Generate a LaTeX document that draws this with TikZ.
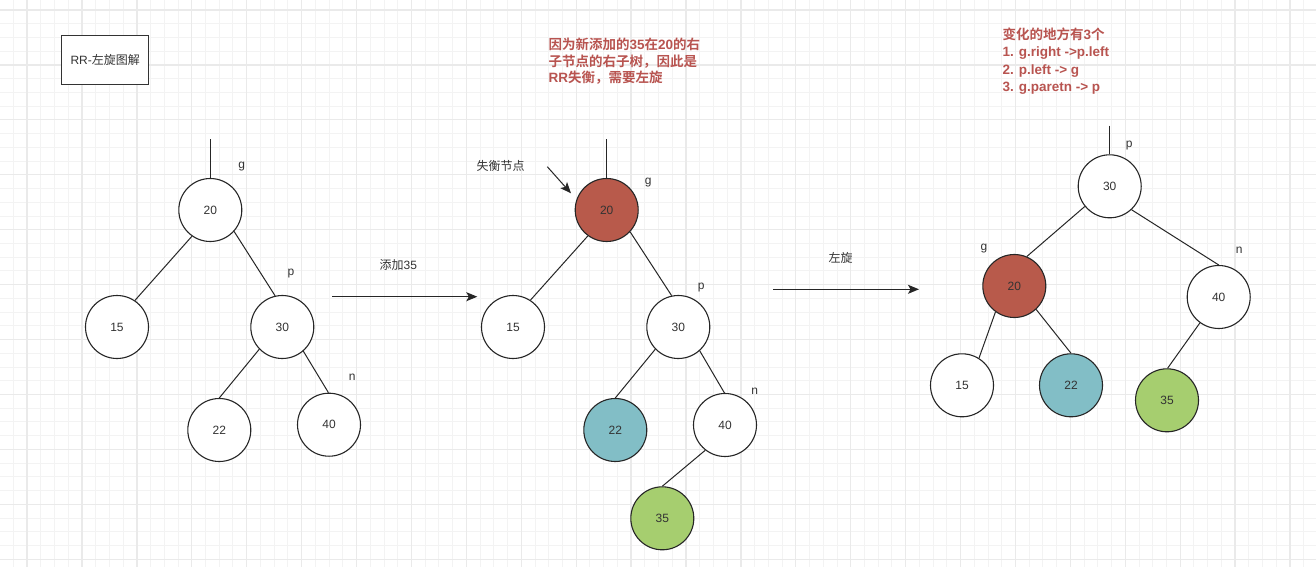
\documentclass[tikz,border=0pt]{standalone}
\usepackage{fontspec}
\setmainfont{Liberation Sans}
\newfontfamily\cjk{Noto Sans CJK SC}[BoldFont={Noto Sans CJK SC Bold}]
\usepackage{xcolor}
\usetikzlibrary{arrows.meta,positioning}

\definecolor{gridminor}{HTML}{F3F3F3}
\definecolor{gridmajor}{HTML}{EAEAEA}
\definecolor{rednode}{HTML}{B85A4B}
\definecolor{tealnode}{HTML}{82BEC6}
\definecolor{greennode}{HTML}{A6CE6F}
\definecolor{redtext}{HTML}{B85450}
\definecolor{inktext}{HTML}{333333}

\tikzset{
    treenode/.style={
        circle,
        draw=black!85,
        line width=1.1pt,
        minimum size=63pt,
        inner sep=0pt,
        fill=white,
        text=inktext,
        font=\fontsize{12}{14}\selectfont
    },
    tag/.style={
        text=inktext,
        inner sep=0pt,
        font=\fontsize{12}{14}\selectfont
    },
    edge/.style={
        line width=1pt,
        draw=black!85
    },
    note/.style={
        text=redtext,
        align=left,
        anchor=north west,
        inner sep=0pt,
        font=\bfseries\fontsize{13.5}{16.8}\selectfont
    },
    pointer/.style={
        -{Stealth[length=11pt,width=9pt,inset=2.5pt]},
        line width=1.2pt,
        draw=black!85
    }
}

\begin{document}
\begin{tikzpicture}[x=1pt,y=-1pt]
                \useasboundingbox (0,0) rectangle (1316,567);
                \fill[white] (0,0) rectangle (1316,567);

                % background grid
                \foreach \i in {0,...,95}
                    \draw[gridminor, line width=0.9pt] ({-0.43+13.728*\i},0) -- ({-0.43+13.728*\i},567);
                \foreach \j in {0,...,40}
                    \draw[gridminor, line width=0.9pt] (0,{10+13.73*\j}) -- (1316,{10+13.73*\j});
                \foreach \i in {2,6,...,94}
                    \draw[gridmajor, line width=1.3pt] ({-0.43+13.728*\i},0) -- ({-0.43+13.728*\i},567);
                \foreach \j in {0,4,...,40}
                    \draw[gridmajor, line width=1.3pt] (0,{10+13.73*\j}) -- (1316,{10+13.73*\j});

                % title
                \node[
                    draw=inktext,
                    line width=1pt,
                    fill=white,
                    minimum width=87pt,
                    minimum height=48.6pt,
                    text=inktext,
                    font=\fontsize{12}{14}\selectfont
                    ] (title) at (105.2,60) {RR-{\cjk 左旋图解}};

                % tree before insert
                \node[treenode] (a20) at (210.3,210) {20};
                \node[treenode] (a15) at (117,327) {15};
                \node[treenode] (a30) at (282.3,327) {30};
                \node[treenode] (a22) at (219.3,430) {22};
                \node[treenode] (a40) at (329,424.7) {40};
                \coordinate (aTop) at (210.3,139);

                \node[tag] (ag) at (241.7,166.7) {g};
                \node[tag] (ap) at (291,273.3) {p};
                \node[tag] (an) at (352.3,377.3) {n};

                \draw[edge] (aTop) -- (a20.north);
                \draw[edge] (a20.235) -- (a15.56);
                \draw[edge] (a20.318) -- (a30.103);
                \draw[edge] (a30.224) -- (a22.90);
                \draw[edge] (a30.311) -- (a40.91);

                % step 1
                \coordinate (addS) at (332.3,296.7);
                \coordinate (addE) at (477.3,296.7);
                \draw[pointer] (addS) -- (addE);
                \node[tag] (addLbl) at (398.3,265) {{\cjk 添加}35};

                % tree after insert
                \node[treenode, fill=rednode] (b20) at (606.7,210) {20};
                \node[treenode] (b15) at (513,327) {15};
                \node[treenode] (b30) at (678.3,327) {30};
                \node[treenode, fill=tealnode] (b22) at (615.3,430) {22};
                \node[treenode] (b40) at (725,425) {40};
                \node[treenode, fill=greennode] (b35) at (662.3,518.3) {35};
                \coordinate (bTop) at (606.7,139);

                \node[tag] (bg) at (648.3,182.3) {g};
                \node[tag] (bp) at (701.3,287.3) {p};
                \node[tag] (bn) at (754.7,391.5) {n};

                \draw[edge] (bTop) -- (b20.north);
                \draw[edge] (b20.234) -- (b15.57);
                \draw[edge] (b20.317) -- (b30.102);
                \draw[edge] (b30.224) -- (b22.90);
                \draw[edge] (b30.312) -- (b40.91);
                \draw[edge] (b40.232) -- (b35.90);

                \node[tag] (hint) at (500.7,165.7) {\cjk 失衡节点};
                \coordinate (hintS) at (547.3,166.7);
                \coordinate (hintE) at (571,193.3);
                \draw[pointer, line width=1pt] (hintS) -- (hintE);

                \node[note] (why) at (548.3,37.6) {{\cjk 因为新添加的}35{\cjk 在}20{\cjk 的右}\\
                    {\cjk 子节点的右子树，因此是}\\
                    RR{\cjk 失衡，需要左旋}};

                % step 2
                \coordinate (rotS) at (773,289.3);
                \coordinate (rotE) at (919,289.3);
                \draw[pointer] (rotS) -- (rotE);
                \node[tag] (rotLbl) at (840.7,258.3) {\cjk 左旋};

                % tree after rotation
                \node[treenode] (c30) at (1109.7,186.3) {30};
                \node[treenode, fill=rednode] (c20) at (1014.3,286) {20};
                \node[treenode] (c40) at (1218.7,297) {40};
                \node[treenode] (c15) at (962,385.3) {15};
                \node[treenode, fill=tealnode] (c22) at (1071,385.3) {22};
                \node[treenode, fill=greennode] (c35) at (1167,400.3) {35};
                \coordinate (cTop) at (1109.7,125.7);

                \node[tag] (cp) at (1129.3,145.7) {p};
                \node[tag] (cg) at (984,248.3) {g};
                \node[tag] (cn) at (1239.3,250.7) {n};

                \draw[edge] (cTop) -- (c30.north);
                \draw[edge] (c30.219) -- (c20.67);
                \draw[edge] (c30.313) -- (c40.90);
                \draw[edge] (c20.234) -- (c15.58);
                \draw[edge] (c20.313) -- (c22.90);
                \draw[edge] (c40.234) -- (c35.89);

                \node[note, font=\bfseries\fontsize{13.5}{17.3}\selectfont] (changes) at (1002.3,27.6) {{\cjk 变化的地方有}3{\cjk 个}\\
                    1. g.right ->p.left\\
                    2. p.left -> g\\
                    3. g.paretn -> p};

\end{tikzpicture}
\end{document}
